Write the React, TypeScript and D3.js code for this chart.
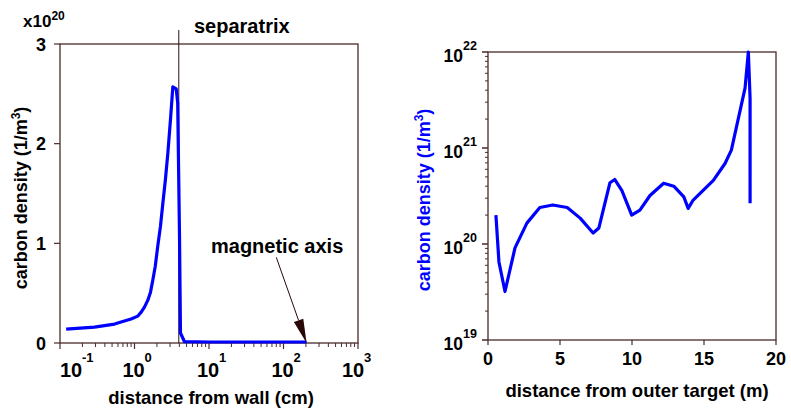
import React from 'react';
import * as d3 from 'd3';

// left panel: distance from wall (cm) vs carbon density (x1e20 1/m3)
const wallDist = [0.121, 0.29, 0.54, 0.66, 0.9, 1.11, 1.23, 1.36, 1.51, 1.64, 1.76, 1.9, 2.05, 2.23, 2.4, 2.6, 2.8, 3.04, 3.27, 3.63, 3.8, 4.02, 4.14, 4.69, 10, 50, 204];
const wallDens = [0.14, 0.16, 0.19, 0.21, 0.24, 0.27, 0.31, 0.36, 0.43, 0.51, 0.63, 0.77, 0.97, 1.17, 1.4, 1.64, 1.9, 2.24, 2.57, 2.55, 2.41, 1.07, 0.1, 0.013, 0.01, 0.01, 0.01];
const leftXExp = [-1, 0, 1, 2, 3];
const leftYTicks = [0, 1, 2, 3];
const separatrixPos = 3.93;
const axisPos = 204;

// right panel: distance from outer target (m) vs carbon density (1/m3)
const targetDist = [0.55, 0.76, 1.18, 1.875, 2.7, 3.6, 4.5, 5.5, 6.4, 7.3, 7.7, 8.47, 8.8, 9.3, 9.98, 10.55, 11.25, 12.2, 12.9, 13.6, 13.9, 14.25, 15.65, 16.46, 16.9, 17.85, 18.08, 18.2, 18.2];
const targetDens = [2.0e20, 6.5e19, 3.2e19, 9.1e19, 1.65e20, 2.4e20, 2.55e20, 2.4e20, 1.86e20, 1.3e20, 1.47e20, 4.35e20, 4.7e20, 3.6e20, 2.0e20, 2.25e20, 3.2e20, 4.3e20, 4.0e20, 3.1e20, 2.35e20, 2.87e20, 4.6e20, 6.9e20, 9.5e20, 4.2e21, 1e22, 3.3e21, 2.65e20];
const rightXTicks = [0, 5, 10, 15, 20];
const rightYExp = [19, 20, 21, 22];

const FONT = 'Liberation Sans, Arial, sans-serif';
const FRAME = '#4b2a2a';
const BLUE = '#0000ff';

export default function App() {
  const xL = d3.scaleLog().domain([0.1, 1000]).range([60, 358]);
  const yL = d3.scaleLinear().domain([0, 3]).range([343, 44]);
  const xR = d3.scaleLinear().domain([0, 20]).range([488, 776]);
  const yR = d3.scaleLog().domain([1e19, 1e22]).range([340, 52]);

  const leftLine = d3.line<number>().x((d, i) => xL(wallDist[i])).y(d => yL(d));
  const rightLine = d3.line<number>().x((d, i) => xR(targetDist[i])).y(d => yR(d));

  const leftMinor: number[] = [];
  for (let e = -1; e < 3; e++) for (let k = 2; k <= 9; k++) leftMinor.push(k * Math.pow(10, e));
  const rightMinor: number[] = [];
  for (let e = 19; e < 22; e++) for (let k = 2; k <= 9; k++) rightMinor.push(k * Math.pow(10, e));

  // arrow for magnetic axis
  const tipX = xL(axisPos), tipY = yL(0);
  const tailX = xL(80), tailY = yL(0.86);
  const ang = Math.atan2(tipY - tailY, tipX - tailX);
  const hl = 24, hw = 5;
  const bx = tipX - hl * Math.cos(ang), by = tipY - hl * Math.sin(ang);
  const head = `M${tipX},${tipY}L${bx - hw * Math.sin(ang)},${by + hw * Math.cos(ang)}L${bx + hw * Math.sin(ang)},${by - hw * Math.cos(ang)}Z`;

  // first/last decade labels are nudged inside, as in the original
  const labelShift = (e: number) => (e === -1 ? 12 : e === 3 ? -4 : 0);

  return (
    <svg width={791} height={410} style={{ position: 'absolute', left: 0, top: 0, background: '#fff' }}
      fontFamily={FONT} fontWeight="bold">
      {/* ---------- left panel ---------- */}
      <rect x={60} y={44} width={298} height={299} fill="none" stroke={FRAME} strokeWidth={1.3} />
      {leftXExp.map(e => (
        <g key={e}>
          <line x1={xL(Math.pow(10, e))} x2={xL(Math.pow(10, e))} y1={343} y2={349} stroke={FRAME} strokeWidth={1.2} />
          <text x={xL(Math.pow(10, e)) - 1 + labelShift(e)} y={377} fontSize={20} textAnchor="middle">10</text>
          <text x={xL(Math.pow(10, e)) + 10 + labelShift(e)} y={362} fontSize={13}>{e}</text>
        </g>
      ))}
      {leftMinor.map(v => (
        <line key={v} x1={xL(v)} x2={xL(v)} y1={343} y2={347} stroke={FRAME} strokeWidth={1} />
      ))}
      {leftYTicks.map(t => (
        <g key={t}>
          <line x1={54} x2={60} y1={yL(t)} y2={yL(t)} stroke={FRAME} strokeWidth={1.2} />
          <text x={46} y={yL(t) + 6.5} fontSize={18} textAnchor="end">{t}</text>
        </g>
      ))}
      <text x={23} y={27} fontSize={17}>x10<tspan fontSize={12} dy={-7}>20</tspan></text>
      <text x={211} y={404} fontSize={18.5} textAnchor="middle">distance from wall (cm)</text>
      <text transform={`translate(27,198) rotate(-90)`} fontSize={18} textAnchor="middle">
        carbon density (1/m<tspan fontSize={12} dy={-7}>3</tspan><tspan dy={7}>)</tspan>
      </text>
      <line x1={xL(separatrixPos)} x2={xL(separatrixPos)} y1={yL(3.14)} y2={343} stroke="#2a1010" strokeWidth={1} />
      <text x={194} y={33} fontSize={20}>separatrix</text>
      <path d={leftLine(wallDens) || ''} fill="none" stroke={BLUE} strokeWidth={3.2} strokeLinejoin="round" />
      <line x1={tailX} y1={tailY} x2={bx} y2={by} stroke="#2a0808" strokeWidth={1} />
      <path d={head} fill="#2a0808" />
      <text x={211} y={253} fontSize={20}>magnetic axis</text>

      {/* ---------- right panel ---------- */}
      <rect x={488} y={52} width={288} height={288} fill="none" stroke={FRAME} strokeWidth={1.3} />
      {rightXTicks.map(t => (
        <g key={t}>
          <line x1={xR(t)} x2={xR(t)} y1={340} y2={345} stroke={FRAME} strokeWidth={1.2} />
          <text x={xR(t)} y={365} fontSize={18} textAnchor="middle">{t}</text>
        </g>
      ))}
      {rightYExp.map(e => (
        <g key={e}>
          <line x1={482} x2={488} y1={yR(Math.pow(10, e))} y2={yR(Math.pow(10, e))} stroke={FRAME} strokeWidth={1.5} />
          <text x={463} y={yR(Math.pow(10, e)) + 10} fontSize={17.5} textAnchor="end">10</text>
          <text x={463} y={yR(Math.pow(10, e)) - 2} fontSize={12.5}>{e}</text>
        </g>
      ))}
      {rightMinor.map(v => (
        <line key={v} x1={485} x2={488} y1={yR(v)} y2={yR(v)} stroke={FRAME} strokeWidth={1} />
      ))}
      <text x={637} y={397} fontSize={18.5} textAnchor="middle">distance from outer target (m)</text>
      <text transform={`translate(430,200) rotate(-90)`} fontSize={18} textAnchor="middle" fill={BLUE}>
        carbon density (1/m<tspan fontSize={12} dy={-7}>3</tspan><tspan dy={7}>)</tspan>
      </text>
      <path d={rightLine(targetDens) || ''} fill="none" stroke={BLUE} strokeWidth={3.2} strokeLinejoin="round" />
    </svg>
  );
}
